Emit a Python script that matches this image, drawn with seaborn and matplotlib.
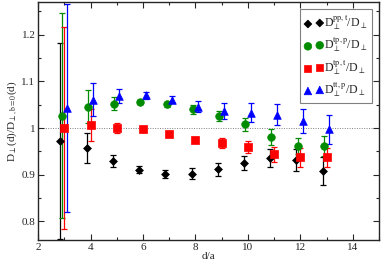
#!/usr/bin/env python3
import seaborn as sns
import pandas as pd
import numpy as np
from matplotlib import pyplot as plt
from matplotlib.ticker import MultipleLocator

# data
d = [3, 4, 5, 6, 7, 8, 9, 10, 11, 12, 13]

pp_t = [0.972, 0.957, 0.929, 0.911, 0.901, 0.902, 0.912, 0.925, 0.936, 0.932, 0.908]
pp_t_err = [0.211, 0.033, 0.013, 0.008, 0.008, 0.012, 0.014, 0.016, 0.019, 0.024, 0.030]

tp_p = [1.026, 1.046, 1.052, 1.056, 1.051, 1.040, 1.026, 1.008, 0.981, 0.961, 0.961]
tp_p_err = [0.220, 0.035, 0.014, 0.004, 0.005, 0.009, 0.011, 0.014, 0.017, 0.017, 0.021]

tp_t = [1.000, 1.007, 1.000, 0.997, 0.988, 0.975, 0.968, 0.959, 0.944, 0.937, 0.937]
tp_t_err = [0.216, 0.034, 0.010, 0.005, 0.004, 0.005, 0.010, 0.013, 0.016, 0.020, 0.021]

tt_p = [1.043, 1.061, 1.068, 1.070, 1.061, 1.046, 1.036, 1.033, 1.029, 1.015, 0.997]
tt_p_err = [0.224, 0.036, 0.015, 0.008, 0.008, 0.012, 0.017, 0.020, 0.023, 0.025, 0.031]

labels = [r'D$_{\perp}^{\mathrm{pp,t}}$/D$_{\perp}$',
          r'D$_{\perp}^{\mathrm{tp,p}}$/D$_{\perp}$',
          r'D$_{\perp}^{\mathrm{tp,t}}$/D$_{\perp}$',
          r'D$_{\perp}^{\mathrm{tt,p}}$/D$_{\perp}$']
colors = ['black', '#008b00', '#ff0000', '#0000ff']
markers = ['D', 'o', 's', '^']
sizes = [16, 30, 26, 30]
shifts = [-0.15, -0.1, 0.0, 0.1]

series = [(pp_t, pp_t_err), (tp_p, tp_p_err), (tp_t, tp_t_err), (tt_p, tt_p_err)]

sns.set_style('ticks')
plt.rcParams['font.family'] = ['Liberation Serif', 'DejaVu Serif']
plt.rcParams['mathtext.fontset'] = 'stix'

fig = plt.figure(figsize=(3.82, 2.66), dpi=100)
ax = fig.add_axes([0.1, 0.098, 0.892, 0.894])

ax.axhline(1.0, color='gray', lw=0.7, ls=(0, (1, 1.5)), zorder=0)

for (vals, errs), lab, c, m, s, sh in zip(series, labels, colors, markers, sizes, shifts):
    df = pd.DataFrame({'x': np.array(d) + sh, 'y': vals, 'err': errs})
    ax.errorbar(df['x'], df['y'], yerr=df['err'], fmt='none', ecolor=c,
                elinewidth=0.9, capsize=2.5, capthick=0.9, zorder=2)
    sns.scatterplot(data=df, x='x', y='y', ax=ax, color=c, marker=m, s=s,
                    edgecolor=c, linewidth=0.5, label=lab, zorder=3)

ax.set_xlim(2, 15)
ax.set_ylim(0.76, 1.27)
ax.xaxis.set_major_locator(MultipleLocator(2))
ax.xaxis.set_minor_locator(MultipleLocator(1))
ax.yaxis.set_minor_locator(MultipleLocator(0.05))
ax.set_yticks([0.8, 0.9, 1.0, 1.1, 1.2])
ax.set_yticklabels(['0.8', '0.9', '1', '1.1', '1.2'])
ax.tick_params(which='both', direction='in', top=True, right=True, labelsize=8, width=0.8, pad=2)
ax.tick_params(which='major', length=4)
ax.tick_params(which='minor', length=2.5)
for sp in ax.spines.values():
    sp.set_linewidth(1.0)

ax.set_xlabel('d/a', fontsize=8, labelpad=0)
ax.set_ylabel(r'D$_{\perp}$(d)/D$_{\perp\mathrm{,b=0}}$(d)', fontsize=8, labelpad=1)

leg = ax.legend(loc='upper right', scatterpoints=2, fontsize=8.5, frameon=True,
                fancybox=False, edgecolor='gray', framealpha=1,
                handletextpad=0.1, handlelength=1.6, borderpad=0.35,
                labelspacing=0.3, borderaxespad=0.6)
leg.get_frame().set_linewidth(0.8)

fig.savefig('out.png', dpi=100)
